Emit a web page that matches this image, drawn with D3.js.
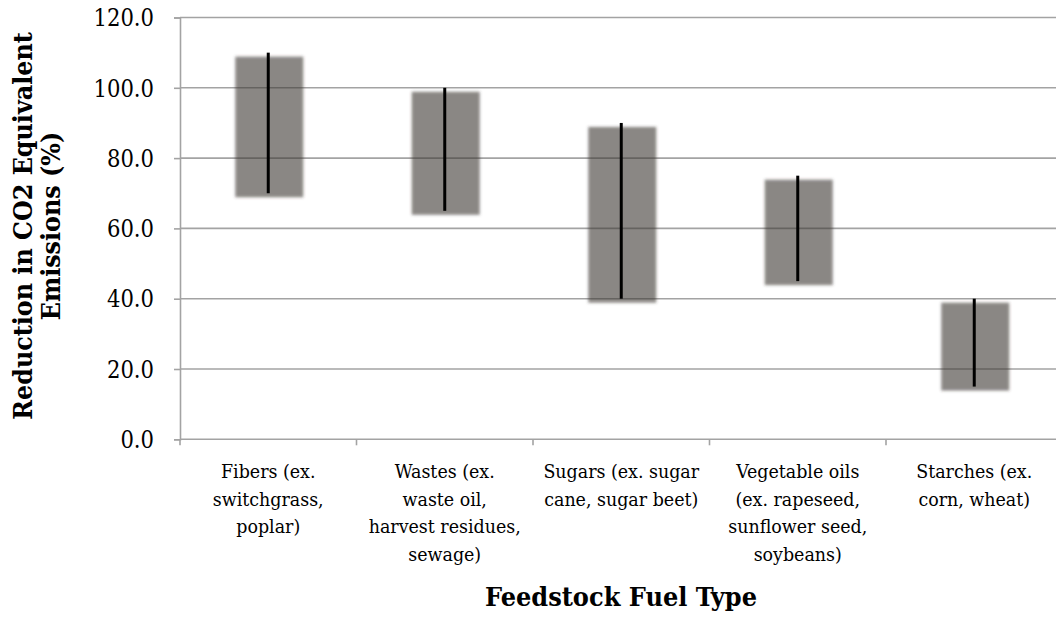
<!DOCTYPE html>
<html>
<head>
<meta charset="utf-8">
<script src="https://cdn.jsdelivr.net/npm/d3@7"></script>
<style>
  body { margin: 0; background: #fff; }
  svg text { font-family: "DejaVu Serif Condensed", "DejaVu Serif", serif; font-stretch: condensed; fill: #000; }
</style>
</head>
<body>
<div id="chart"></div>
<script>
// Feedstock categories (label lines as wrapped in the chart)
const categories = [
    ["Fibers (ex.", "switchgrass,", "poplar)"],
    ["Wastes (ex.", "waste oil,", "harvest residues,", "sewage)"],
    ["Sugars (ex. sugar", "cane, sugar beet)"],
    ["Vegetable oils", "(ex. rapeseed,", "sunflower seed,", "soybeans)"],
    ["Starches (ex.", "corn, wheat)"]
];
// Reduction range (%) per feedstock
const lowValues  = [70, 65, 40, 45, 15];
const highValues = [110, 100, 90, 75, 40];
const yTicks = [0, 20, 40, 60, 80, 100, 120];

const width = 1056, height = 633;
const margin = { top: 17.5, left: 180 };
const plotW = 882.5, plotH = 421.8;

const svg = d3.select("#chart").append("svg")
    .attr("width", width)
    .attr("height", height);

const defs = svg.append("defs");
defs.append("filter")
    .attr("id", "soft")
    .attr("x", "-20%").attr("y", "-20%")
    .attr("width", "140%").attr("height", "140%")
  .append("feGaussianBlur")
    .attr("stdDeviation", 1.5);

const x = d3.scaleBand()
    .domain(d3.range(categories.length))
    .range([margin.left, margin.left + plotW]);

const y = d3.scaleLinear()
    .domain([0, 120])
    .range([margin.top + plotH, margin.top]);

// gridlines
svg.append("g")
    .selectAll("line")
    .data(yTicks.filter(d => d > 0))
    .join("line")
    .attr("x1", margin.left)
    .attr("x2", margin.left + plotW)
    .attr("y1", d => y(d))
    .attr("y2", d => y(d))
    .attr("stroke", "#a3a3a3")
    .attr("stroke-width", 1.6);

// shadow bars
const barW = 68;
svg.append("g")
    .attr("filter", "url(#soft)")
    .selectAll("rect")
    .data(categories.map((c, i) => i))
    .join("rect")
    .attr("x", i => x(i) + x.bandwidth() / 2 - barW / 2 + 1)
    .attr("y", i => y(highValues[i]) + 4)
    .attr("width", barW)
    .attr("height", i => y(lowValues[i]) - y(highValues[i]))
    .attr("fill", "rgb(60,54,52)")
    .attr("fill-opacity", 0.6);

// range lines
svg.append("g")
    .selectAll("line")
    .data(categories.map((c, i) => i))
    .join("line")
    .attr("x1", i => x(i) + x.bandwidth() / 2)
    .attr("x2", i => x(i) + x.bandwidth() / 2)
    .attr("y1", i => y(highValues[i]))
    .attr("y2", i => y(lowValues[i]))
    .attr("stroke", "#000")
    .attr("stroke-width", 3);

// y axis
const yAxis = svg.append("g")
    .attr("transform", `translate(${margin.left},0)`)
    .call(d3.axisLeft(y).tickValues(yTicks).tickFormat(d3.format(".1f")).tickSize(6).tickPadding(20));
yAxis.select(".domain").attr("stroke", "#a3a3a3").attr("stroke-width", 1.6);
yAxis.selectAll(".tick line").attr("stroke", "#a3a3a3").attr("stroke-width", 1.6);
yAxis.selectAll("text")
    .style("font-family", null)
    .style("font-size", "23.5px")
    .attr("dy", "0.35em");

// x axis
const xAxisY = y(0);
svg.append("line")
    .attr("x1", margin.left).attr("x2", margin.left + plotW)
    .attr("y1", xAxisY).attr("y2", xAxisY)
    .attr("stroke", "#a3a3a3").attr("stroke-width", 1.6);
svg.append("g")
    .selectAll("line")
    .data(d3.range(categories.length + 1))
    .join("line")
    .attr("x1", i => margin.left + i * x.bandwidth())
    .attr("x2", i => margin.left + i * x.bandwidth())
    .attr("y1", xAxisY)
    .attr("y2", xAxisY + 6)
    .attr("stroke", "#a3a3a3")
    .attr("stroke-width", 1.6);

// category labels
const labels = svg.append("g")
    .selectAll("text")
    .data(categories)
    .join("text")
    .attr("text-anchor", "middle")
    .attr("font-size", 19.4);
labels.each(function(lines, i) {
    d3.select(this).selectAll("tspan")
        .data(lines)
        .join("tspan")
        .attr("x", x(i) + x.bandwidth() / 2)
        .attr("y", (d, j) => 478 + j * 27.7)
        .text(d => d);
});

// axis titles
svg.append("text")
    .attr("x", 621)
    .attr("y", 606)
    .attr("text-anchor", "middle")
    .attr("font-size", 26.8)
    .attr("font-weight", "bold")
    .text("Feedstock Fuel Type");

const yTitle = svg.append("text")
    .attr("transform", "translate(0,226) rotate(-90)")
    .attr("text-anchor", "middle")
    .attr("font-size", 26.5)
    .attr("font-weight", "bold");
yTitle.append("tspan").attr("x", 0).attr("y", 32).text("Reduction in CO2 Equivalent");
yTitle.append("tspan").attr("x", 0).attr("y", 60).text("Emissions (%)");
</script>
</body>
</html>
